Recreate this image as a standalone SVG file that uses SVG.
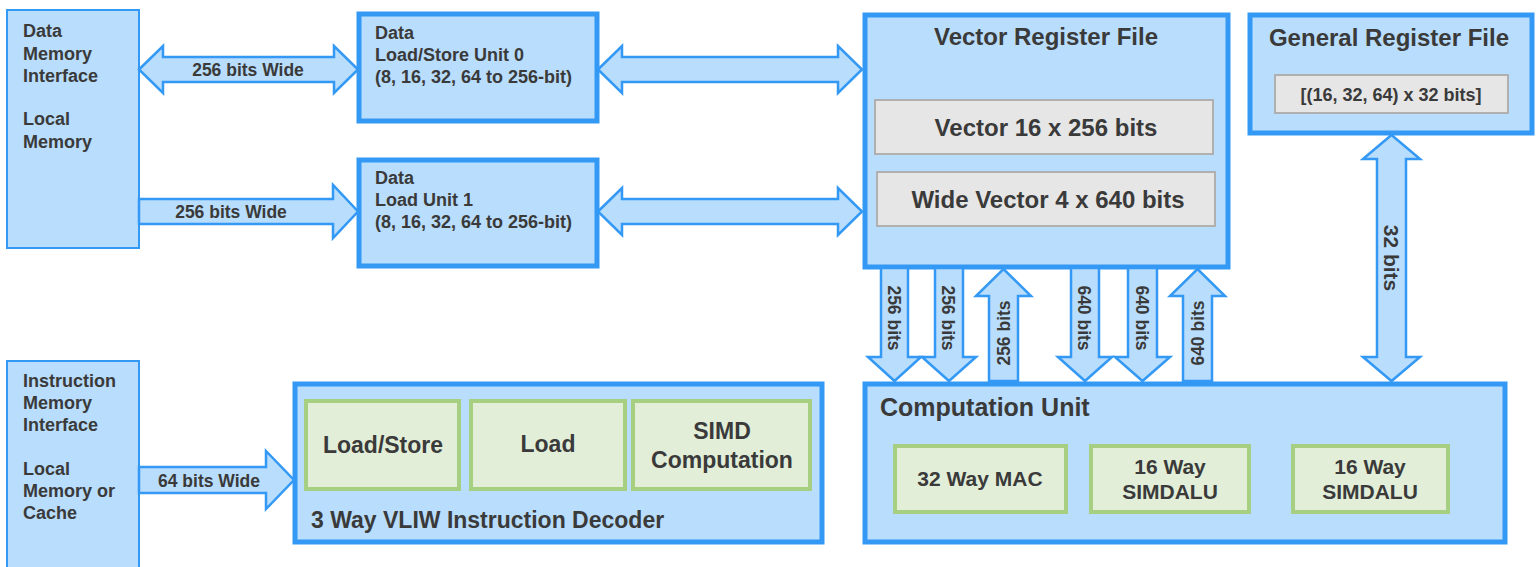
<svg xmlns="http://www.w3.org/2000/svg" width="1538" height="567" viewBox="0 0 1538 567">
<style>
text{font-family:"Liberation Sans",Arial,sans-serif;font-weight:bold;fill:#3a3a3a}
.mem{fill:#b9ddfc;stroke:#3399f5;stroke-width:2}
.blk{fill:#b9ddfc;stroke:#3399f5;stroke-width:5}
.gray{fill:#e6e6e6;stroke:#b0b0b0;stroke-width:2}
.grn{fill:#e2eed8;stroke:#a6cf82;stroke-width:4}
.arr{fill:#b9ddfc;stroke:#3399f5;stroke-width:2.5;stroke-linejoin:miter}
.t18{font-size:18px}
.t17{font-size:17.5px}
.t24{font-size:24px}
.t23{font-size:23px}
.t21{font-size:21px}
.t25{font-size:25px}
.c{text-anchor:middle}
</style>
<rect width="1538" height="567" fill="#fff"/>

<g id="data-mem">
<rect class="mem" x="7" y="10" width="132" height="238"/>
<text class="t18" x="23" y="37">Data</text>
<text class="t18" x="23" y="60">Memory</text>
<text class="t18" x="23" y="82">Interface</text>
<text class="t18" x="23" y="125">Local</text>
<text class="t18" x="23" y="148">Memory</text>
</g>

<g id="lsu0">
<rect class="blk" x="359" y="14" width="238" height="107"/>
<text class="t18" x="375" y="39">Data</text>
<text class="t18" x="375" y="61">Load/Store Unit 0</text>
<text class="t18" x="375" y="83">(8, 16, 32, 64 to 256-bit)</text>
</g>

<g id="lu1">
<rect class="blk" x="359" y="160" width="238" height="106"/>
<text class="t18" x="375" y="184">Data</text>
<text class="t18" x="375" y="206">Load Unit 1</text>
<text class="t18" x="375" y="228">(8, 16, 32, 64 to 256-bit)</text>
</g>

<g id="vrf">
<rect class="blk" x="865" y="15" width="363" height="252"/>
<text class="t24 c" x="1046" y="45">Vector Register File</text>
<rect class="gray" x="875" y="100" width="338" height="54"/>
<text class="t24 c" x="1046" y="136">Vector 16 x 256 bits</text>
<rect class="gray" x="877" y="172" width="338" height="54"/>
<text class="t24 c" x="1048" y="208">Wide Vector 4 x 640 bits</text>
</g>

<g id="grf">
<rect class="blk" x="1250" y="15" width="282" height="118"/>
<text class="t24 c" x="1389" y="46">General Register File</text>
<rect class="gray" x="1275" y="75" width="233" height="38"/>
<text class="t18 c" x="1391" y="101">[(16, 32, 64) x 32 bits]</text>
</g>

<g id="imem">
<rect class="mem" x="7" y="361" width="132" height="220"/>
<text class="t18" x="23" y="387">Instruction</text>
<text class="t18" x="23" y="409">Memory</text>
<text class="t18" x="23" y="431">Interface</text>
<text class="t18" x="23" y="475">Local</text>
<text class="t18" x="23" y="497">Memory or</text>
<text class="t18" x="23" y="519">Cache</text>
</g>

<g id="decoder">
<rect class="blk" x="295" y="384" width="527" height="158"/>
<rect class="grn" x="306" y="401" width="153" height="88"/>
<text class="t23 c" x="383" y="453">Load/Store</text>
<rect class="grn" x="471" y="401" width="154" height="88"/>
<text class="t23 c" x="548" y="452">Load</text>
<rect class="grn" x="633" y="401" width="177" height="88"/>
<text class="t23 c" x="722" y="439">SIMD</text>
<text class="t23 c" x="722" y="468">Computation</text>
<text class="t23" x="311" y="528">3 Way VLIW Instruction Decoder</text>
</g>

<g id="cu">
<rect class="blk" x="865" y="384" width="640" height="158"/>
<text class="t25" x="880" y="416">Computation Unit</text>
<rect class="grn" x="895" y="446" width="171" height="66"/>
<text class="t21 c" x="980" y="486">32 Way MAC</text>
<rect class="grn" x="1091" y="446" width="158" height="66"/>
<text class="t21 c" x="1170" y="474">16 Way</text>
<text class="t21 c" x="1170" y="499">SIMDALU</text>
<rect class="grn" x="1293" y="446" width="155" height="66"/>
<text class="t21 c" x="1370" y="474">16 Way</text>
<text class="t21 c" x="1370" y="499">SIMDALU</text>
</g>

<g id="connectors">
<polygon class="arr" points="139,69.5 163,46 163,57 334,57 334,46 358,69.5 334,93 334,82 163,82 163,93"/>
<text class="t17 c" x="248" y="76">256 bits Wide</text>
<polygon class="arr" points="139,199 333,199 333,185 358,211.5 333,238 333,224 139,224"/>
<text class="t17 c" x="231" y="218">256 bits Wide</text>
<polygon class="arr" points="598,69.5 622,46 622,57 838,57 838,46 862,69.5 838,93 838,82 622,82 622,93"/>
<polygon class="arr" points="598,211.5 622,188 622,199 838,199 838,188 862,211.5 838,235 838,224 622,224 622,235"/>
<polygon class="arr" points="139,467 266,467 266,451 294,480 266,509 266,493 139,493"/>
<text class="t17 c" x="209" y="487">64 bits Wide</text>

<polygon class="arr" points="881,268 908,268 908,357 921,357 894.5,381 868,357 881,357"/>
<text class="t17 c" transform="translate(888,318) rotate(90)">256 bits</text>
<polygon class="arr" points="935,268 963,268 963,357 976,357 949,381 922,357 935,357"/>
<text class="t17 c" transform="translate(942,318) rotate(90)">256 bits</text>
<polygon class="arr" points="989,381 1018,381 1018,296 1031,296 1003.5,269 976,296 989,296"/>
<text class="t17 c" transform="translate(1010,333) rotate(-90)">256 bits</text>
<polygon class="arr" points="1071,268 1099,268 1099,357 1112,357 1085,381 1058,357 1071,357"/>
<text class="t17 c" transform="translate(1078,318) rotate(90)">640 bits</text>
<polygon class="arr" points="1128,268 1157,268 1157,357 1170,357 1142.5,381 1115,357 1128,357"/>
<text class="t17 c" transform="translate(1136,318) rotate(90)">640 bits</text>
<polygon class="arr" points="1183,381 1212,381 1212,296 1225,296 1197.5,269 1170,296 1183,296"/>
<text class="t17 c" transform="translate(1204,333) rotate(-90)">640 bits</text>

<polygon class="arr" points="1391.5,135 1420,159 1406,159 1406,357 1420,357 1391.5,381 1363,357 1377,357 1377,159 1363,159"/>
<text class="t21 c" transform="translate(1384,258) rotate(90)">32 bits</text>
</g>
</svg>
